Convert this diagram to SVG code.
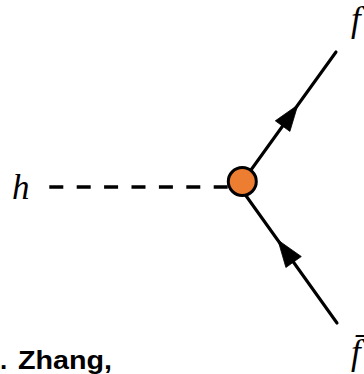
<svg xmlns="http://www.w3.org/2000/svg" width="364" height="374" viewBox="0 0 364 374">
  <style>
    .fermion { stroke: #000; stroke-width: 3.1; fill: none; stroke-linecap: round; }
    .scalar { stroke: #000; stroke-width: 3.6; fill: none; stroke-dasharray: 14 13.4; }
    .arrow { fill: #000; stroke: #000; stroke-width: 0.8; stroke-linejoin: miter; }
    .math { font-family: "Liberation Serif", "Times New Roman", serif; font-style: italic; font-size: 35px; fill: #000; }
  </style>
  <rect width="364" height="374" fill="#fff"/>
  <g id="connectors">
    <line class="scalar" x1="49.3" y1="187" x2="230" y2="187"/>
    <line class="fermion" x1="242.3" y1="182" x2="336" y2="52"/>
    <polygon class="arrow" points="297.8,105 289.9,131.4 275.3,120.8"/>
    <line class="fermion" x1="237.6" y1="184" x2="337" y2="323"/>
    <polygon class="arrow" points="277.9,240 301.3,256.5 285.9,267.5"/>
  </g>
  <g id="vertex">
    <circle cx="242.3" cy="181.5" r="14" fill="#ED7D31" stroke="#000" stroke-width="3"/>
  </g>
  <g id="h">
    <text class="math" x="12" y="199">h</text>
  </g>
  <g id="f">
    <text class="math" x="351" y="31">f</text>
  </g>
  <g id="fbar">
    <text class="math" x="351" y="364">f̄</text>
  </g>
  <g id="caption" font-family="Liberation Sans, Arial, sans-serif" font-weight="bold" font-size="26" fill="#000">
    <text x="0" y="369">.</text>
    <text x="18" y="369" textLength="94" lengthAdjust="spacingAndGlyphs">Zhang,</text>
  </g>
</svg>
